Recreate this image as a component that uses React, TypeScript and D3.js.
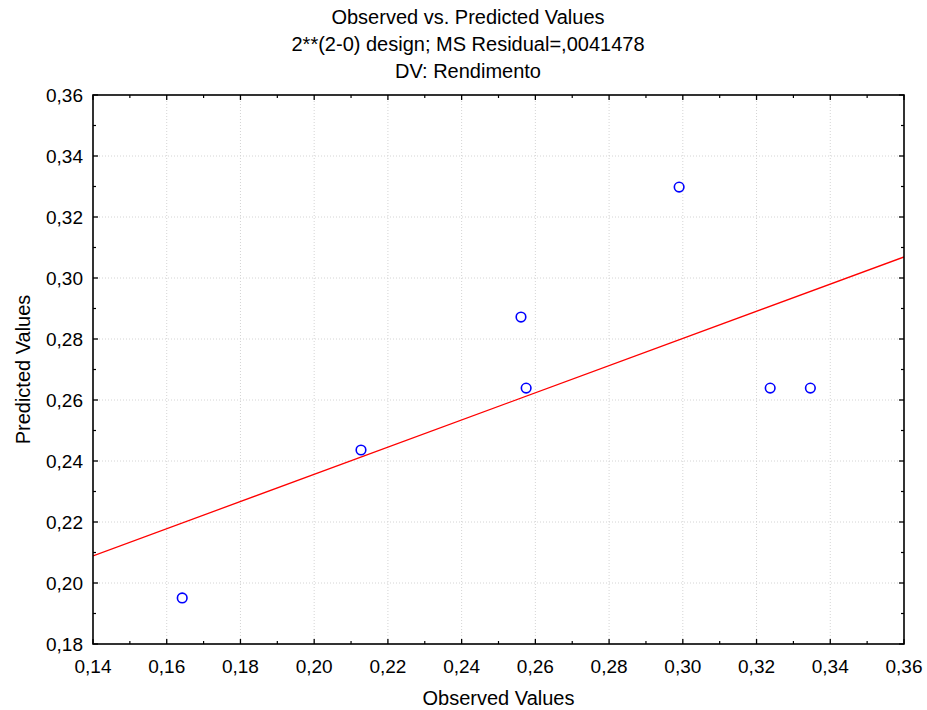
import React from "react";
import * as d3 from "d3";

const observed = [0.1642, 0.2127, 0.2561, 0.2575, 0.299, 0.3237, 0.3346];
const predicted = [0.1951, 0.2436, 0.2872, 0.2639, 0.3298, 0.2639, 0.2639];
const fitX = [0.14, 0.36];
const fitY = [0.2089, 0.3069];
const xTicks = [0.14, 0.16, 0.18, 0.2, 0.22, 0.24, 0.26, 0.28, 0.3, 0.32, 0.34, 0.36];
const yTicks = [0.18, 0.2, 0.22, 0.24, 0.26, 0.28, 0.3, 0.32, 0.34, 0.36];
const titleLines = [
  "Observed vs. Predicted Values",
  "2**(2-0) design; MS Residual=,0041478",
  "DV: Rendimento",
];

const W = 927, H = 710;
const m = { left: 93, right: 904, top: 95, bottom: 644 };
const font = "'Liberation Sans', Arial, sans-serif";

const fmt = (v: number) => v.toFixed(2).replace(".", ",");

export default function App() {
  const x = d3.scaleLinear().domain([0.14, 0.36]).range([m.left, m.right]);
  const y = d3.scaleLinear().domain([0.18, 0.36]).range([m.bottom, m.top]);

  const xMinor = xTicks.slice(0, -1).map((t) => t + 0.01);
  const yMinor = yTicks.slice(0, -1).map((t) => t + 0.01);

  const line = d3
    .line<number>()
    .x((_, i) => x(fitX[i]))
    .y((d) => y(d));

  return (
    <svg
      width={W}
      height={H}
      style={{ position: "absolute", left: 0, top: 0, background: "#fff" }}
      fontFamily={font}
    >
      <rect width={W} height={H} fill="#fff" />
      {/* grid */}
      {xTicks.slice(1, -1).map((t) => (
        <line key={"gx" + t} x1={x(t)} x2={x(t)} y1={m.top} y2={m.bottom}
          stroke="#d4d4d4" strokeWidth={1} strokeDasharray="1,2" />
      ))}
      {yTicks.slice(1, -1).map((t) => (
        <line key={"gy" + t} x1={m.left} x2={m.right} y1={y(t)} y2={y(t)}
          stroke="#d4d4d4" strokeWidth={1} strokeDasharray="1,2" />
      ))}

      {/* fit line */}
      <defs>
        <clipPath id="clip">
          <rect x={m.left} y={m.top} width={m.right - m.left} height={m.bottom - m.top} />
        </clipPath>
      </defs>
      <path d={line(fitY) || ""} fill="none" stroke="#ff0000" strokeWidth={1.3} clipPath="url(#clip)" />

      {/* points */}
      {observed.map((o, i) => (
        <circle key={i} cx={x(o)} cy={y(predicted[i])} r={4.8}
          fill="none" stroke="#0000ff" strokeWidth={1.6} />
      ))}

      {/* frame */}
      <rect x={m.left} y={m.top} width={m.right - m.left} height={m.bottom - m.top}
        fill="none" stroke="#000" strokeWidth={1.6} />

      {/* ticks */}
      {xTicks.map((t) => (
        <g key={"tx" + t}>
          <line x1={x(t)} x2={x(t)} y1={m.bottom} y2={m.bottom - 5} stroke="#000" strokeWidth={1.3} />
          <line x1={x(t)} x2={x(t)} y1={m.top} y2={m.top + 5} stroke="#000" strokeWidth={1.3} />
        </g>
      ))}
      {xMinor.map((t) => (
        <g key={"mx" + t}>
          <line x1={x(t)} x2={x(t)} y1={m.bottom} y2={m.bottom - 3} stroke="#000" strokeWidth={1.2} />
          <line x1={x(t)} x2={x(t)} y1={m.top} y2={m.top + 3} stroke="#000" strokeWidth={1.2} />
        </g>
      ))}
      {yTicks.map((t) => (
        <g key={"ty" + t}>
          <line x1={m.left} x2={m.left + 5} y1={y(t)} y2={y(t)} stroke="#000" strokeWidth={1.3} />
          <line x1={m.right} x2={m.right - 5} y1={y(t)} y2={y(t)} stroke="#000" strokeWidth={1.3} />
        </g>
      ))}
      {yMinor.map((t) => (
        <g key={"my" + t}>
          <line x1={m.left} x2={m.left + 3} y1={y(t)} y2={y(t)} stroke="#000" strokeWidth={1.2} />
          <line x1={m.right} x2={m.right - 3} y1={y(t)} y2={y(t)} stroke="#000" strokeWidth={1.2} />
        </g>
      ))}

      {/* tick labels */}
      {xTicks.map((t) => (
        <text key={"lx" + t} x={x(t)} y={673} fontSize={19} textAnchor="middle" fill="#000">
          {fmt(t)}
        </text>
      ))}
      {yTicks.map((t) => (
        <text key={"ly" + t} x={83} y={y(t)} dy="0.35em" fontSize={19} textAnchor="end" fill="#000">
          {fmt(t)}
        </text>
      ))}

      {/* titles */}
      {titleLines.map((s, i) => (
        <text key={s} x={468} y={24 + i * 27} fontSize={20} textAnchor="middle" fill="#000">
          {s}
        </text>
      ))}
      <text x={(m.left + m.right) / 2} y={705} fontSize={20} textAnchor="middle" fill="#000">
        Observed Values
      </text>
      <text transform={`translate(30,${(m.top + m.bottom) / 2}) rotate(-90)`} fontSize={20}
        textAnchor="middle" fill="#000">
        Predicted Values
      </text>
    </svg>
  );
}
